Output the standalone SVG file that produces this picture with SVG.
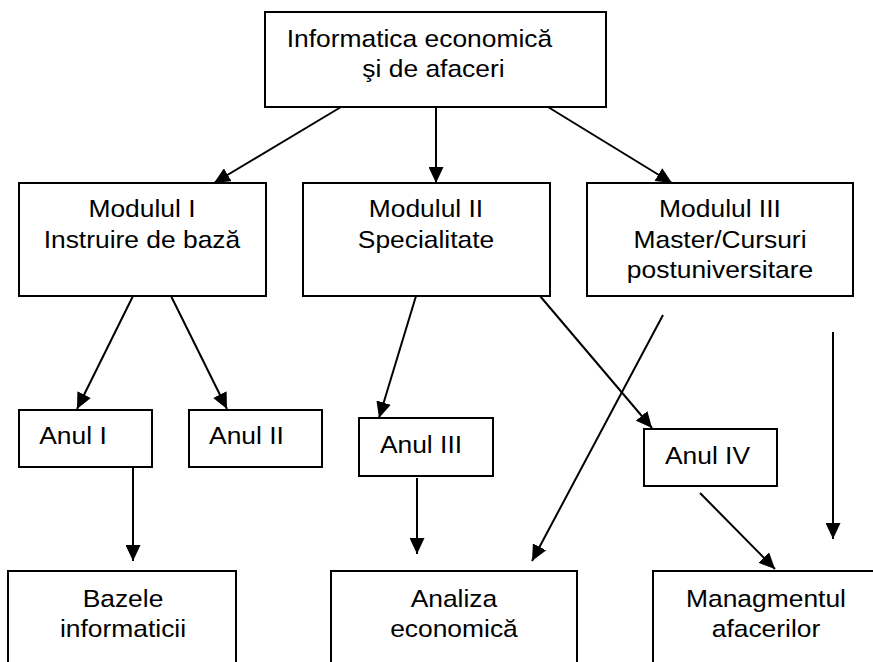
<svg xmlns="http://www.w3.org/2000/svg" width="873" height="662" viewBox="0 0 873 662">
  <style>
    .box { fill: #ffffff; stroke: #000000; stroke-width: 2; }
    .lbl { font-family: "Liberation Sans", Arial, sans-serif; font-size: 24px; fill: #000000; text-anchor: middle;
           transform-box: fill-box; transform-origin: center; transform: scaleX(1.1); }
    .edge { stroke: #000000; stroke-width: 2; fill: none; marker-end: url(#arrow); }
  </style>
  <defs>
    <marker id="arrow" markerUnits="userSpaceOnUse" markerWidth="16" markerHeight="15" refX="16" refY="7.5" orient="auto">
      <path d="M0,0 L16,7.5 L0,15 z" fill="#000000"/>
    </marker>
  </defs>
  <rect width="873" height="662" fill="#ffffff"/>

  <g id="connectors">
    <line class="edge" x1="341" y1="107" x2="214" y2="183"/>
    <line class="edge" x1="436" y1="107" x2="436" y2="183"/>
    <line class="edge" x1="548" y1="107" x2="672" y2="183"/>
    <line class="edge" x1="133" y1="296" x2="77" y2="409"/>
    <line class="edge" x1="171" y1="296" x2="227" y2="409"/>
    <line class="edge" x1="416" y1="296" x2="379" y2="418"/>
    <line class="edge" x1="540" y1="296" x2="652" y2="428"/>
    <line class="edge" x1="663" y1="315" x2="532" y2="561"/>
    <line class="edge" x1="833" y1="332" x2="833" y2="539"/>
    <line class="edge" x1="133" y1="467" x2="133" y2="561"/>
    <line class="edge" x1="417" y1="478" x2="417" y2="554"/>
    <line class="edge" x1="700" y1="493" x2="775" y2="569"/>
  </g>

  <g id="informatica">
    <rect class="box" x="265" y="12" width="341" height="95"/>
    <text class="lbl" x="419.5" y="47">Informatica economică</text>
    <text class="lbl" x="433.5" y="77">şi de afaceri</text>
  </g>

  <g id="modulul1">
    <rect class="box" x="19" y="183" width="247" height="113"/>
    <text class="lbl" x="142" y="217">Modulul I</text>
    <text class="lbl" x="142" y="248">Instruire de bază</text>
  </g>

  <g id="modulul2">
    <rect class="box" x="303" y="183" width="247" height="113"/>
    <text class="lbl" x="426" y="217">Modulul II</text>
    <text class="lbl" x="426" y="248">Specialitate</text>
  </g>

  <g id="modulul3">
    <rect class="box" x="587" y="183" width="266" height="113"/>
    <text class="lbl" x="720" y="217">Modulul III</text>
    <text class="lbl" x="720" y="248">Master/Cursuri</text>
    <text class="lbl" x="720" y="278">postuniversitare</text>
  </g>

  <g id="anul1">
    <rect class="box" x="19" y="410" width="133" height="57"/>
    <text class="lbl" x="73" y="444">Anul I</text>
  </g>

  <g id="anul2">
    <rect class="box" x="189" y="410" width="133" height="57"/>
    <text class="lbl" x="246.5" y="444">Anul II</text>
  </g>

  <g id="anul3">
    <rect class="box" x="359" y="418" width="134" height="58"/>
    <text class="lbl" x="421" y="453">Anul III</text>
  </g>

  <g id="anul4">
    <rect class="box" x="644" y="429" width="133" height="57"/>
    <text class="lbl" x="707.5" y="464">Anul IV</text>
  </g>

  <g id="bazele">
    <rect class="box" x="8" y="571" width="228" height="100"/>
    <text class="lbl" x="123" y="607">Bazele</text>
    <text class="lbl" x="123" y="637">informaticii</text>
  </g>

  <g id="analiza">
    <rect class="box" x="331" y="571" width="246" height="100"/>
    <text class="lbl" x="454" y="607">Analiza</text>
    <text class="lbl" x="454" y="637">economică</text>
  </g>

  <g id="managmentul">
    <rect class="box" x="653" y="571" width="227" height="100"/>
    <text class="lbl" x="766" y="607">Managmentul</text>
    <text class="lbl" x="766" y="637">afacerilor</text>
  </g>
</svg>
